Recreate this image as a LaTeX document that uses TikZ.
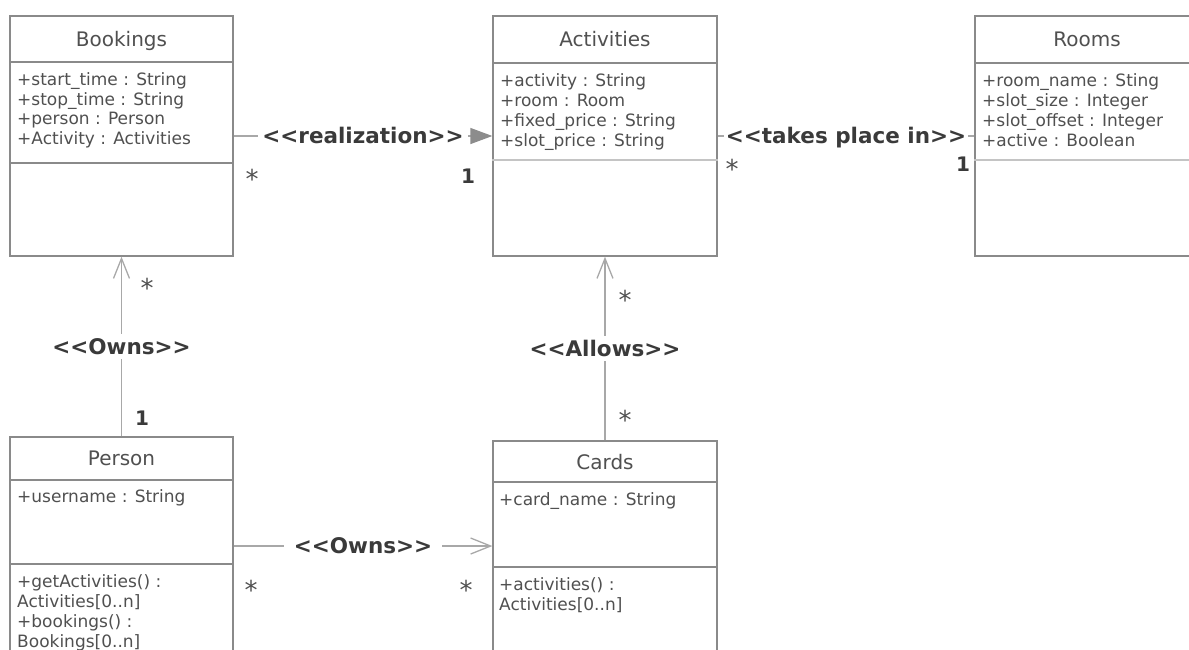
\documentclass[tikz,border=0pt]{standalone}
\usepackage{fontspec}
\setmainfont{DejaVu Sans}
\usetikzlibrary{arrows.meta}
\definecolor{boxline}{HTML}{8A8A8A}
\definecolor{connline}{HTML}{A8A8A8}
\definecolor{txtgray}{HTML}{505050}
\definecolor{lblgray}{HTML}{3A3A3A}
\definecolor{arrowgray}{HTML}{8C8C8C}
\definecolor{lightdiv}{HTML}{C4C4C4}
\newcommand{\lgl}{<\kern0pt<}
\newcommand{\rgl}{>\kern0pt>}
\begin{document}
\begin{tikzpicture}[x=1pt,y=-1pt,
  classbox/.style={draw=boxline,line width=1.3pt,fill=white,inner sep=0pt},
  titletext/.style={anchor=base,text=txtgray,font=\fontsize{20}{24}\selectfont,inner sep=0pt},
  attr/.style={anchor=base west,text=txtgray,font=\fontsize{17}{20}\selectfont,inner sep=0pt},
  divider/.style={draw=boxline,line width=1.3pt},
  softdiv/.style={draw=lightdiv,line width=2pt},
  connector/.style={draw=connline,line width=1.3pt},
  stereo/.style={fill=white,text=lblgray,font=\bfseries\fontsize{21.5}{25}\selectfont,inner xsep=4pt,inner ysep=5pt,text height=15pt,text depth=0pt},
  many/.style={anchor=base,text=txtgray,font=\fontsize{26}{30}\selectfont,inner sep=0pt},
  one/.style={anchor=base,text=lblgray,font=\bfseries\fontsize{20}{24}\selectfont,inner sep=0pt},
  openarrow/.style={-{Straight Barb[length=20pt,width=16pt]}},
  realarrow/.style={-{Triangle[length=22pt,width=16pt,color=arrowgray]}}
]
\useasboundingbox (0,0) rectangle (1189,649);

% ---------- Bookings ----------
\node[classbox,minimum width=223pt,minimum height=240pt] (bookings) at (121.5,136) {};
\draw[divider] (bookings.west |- 0,62) -- (bookings.east |- 0,62);
\draw[divider] (bookings.west |- 0,163) -- (bookings.east |- 0,163);
\node[titletext] (bookingsT) at (121.5,46) {Bookings};
\node[attr] (b1) at (17,85) {+start\_time : String};
\node[attr] (b2) at (17,105) {+stop\_time : String};
\node[attr] (b3) at (17,124.5) {+person : Person};
\node[attr] (b4) at (17,144) {+Activity : Activities};

% ---------- Activities ----------
\node[classbox,minimum width=224pt,minimum height=240pt] (activities) at (605,136) {};
\draw[divider] (activities.west |- 0,63) -- (activities.east |- 0,63);
\draw[softdiv] (activities.west |- 0,160) -- (activities.east |- 0,160);
\node[titletext] (activitiesT) at (605,46) {Activities};
\node[attr] (a1) at (500,86) {+activity : String};
\node[attr] (a2) at (500,106) {+room : Room};
\node[attr] (a3) at (500,126) {+fixed\_price : String};
\node[attr] (a4) at (500,146) {+slot\_price : String};

% ---------- Rooms ----------
\node[classbox,minimum width=224pt,minimum height=240pt] (rooms) at (1087,136) {};
\draw[divider] (rooms.west |- 0,63) -- (rooms.east |- 0,63);
\draw[softdiv] (rooms.west |- 0,160) -- (rooms.east |- 0,160);
\node[titletext] (roomsT) at (1087,46) {Rooms};
\node[attr] (r1) at (982,86) {+room\_name : Sting};
\node[attr] (r2) at (982,106) {+slot\_size : Integer};
\node[attr] (r3) at (982,126) {+slot\_offset : Integer};
\node[attr] (r4) at (982,146) {+active : Boolean};

% ---------- Person ----------
\node[classbox,minimum width=223pt,minimum height=218pt] (person) at (121.5,546) {};
\draw[divider] (person.west |- 0,480) -- (person.east |- 0,480);
\draw[divider] (person.west |- 0,564) -- (person.east |- 0,564);
\node[titletext] (personT) at (121.5,465) {Person};
\node[attr] (p1) at (17,502) {+username : String};
\node[attr] (p2) at (17,587) {+getActivities() :};
\node[attr] (p3) at (17,607) {Activities[0..n]};
\node[attr] (p4) at (17,627) {+bookings() :};
\node[attr] (p5) at (17,647) {Bookings[0..n]};

% ---------- Cards ----------
\node[classbox,minimum width=224pt,minimum height=210pt] (cards) at (605,546) {};
\draw[divider] (cards.west |- 0,482) -- (cards.east |- 0,482);
\draw[divider] (cards.west |- 0,567) -- (cards.east |- 0,567);
\node[titletext] (cardsT) at (605,469) {Cards};
\node[attr] (c1) at (499,505) {+card\_name : String};
\node[attr] (c2) at (499,590) {+activities() :};
\node[attr] (c3) at (499,610) {Activities[0..n]};

% ---------- Connectors ----------
\draw[connector,realarrow] (bookings.east) -- node[stereo] (realLbl) {\lgl realization\rgl} (activities.west);
\draw[connector] (activities.east) -- node[stereo,inner xsep=2pt] (takesLbl) {\lgl takes place in\rgl} (rooms.west);
\draw[connector,openarrow] (person.north) -- node[stereo,inner xsep=6pt] (ownsVLbl) {\lgl Owns\rgl} (bookings.south);
\draw[connector,openarrow] (cards.north) -- node[stereo,inner xsep=6pt] (allowsLbl) {\lgl Allows\rgl} (activities.south);
\draw[connector,openarrow] (person.east) -- node[stereo,inner xsep=10pt] (ownsHLbl) {\lgl Owns\rgl} (cards.west);

% ---------- Multiplicities ----------
\node[many] (m1) at (252,188) {*};
\node[one]  (m2) at (468,183) {1};
\node[many] (m3) at (732,178) {*};
\node[one]  (m4) at (963,171) {1};
\node[many] (m5) at (147,297) {*};
\node[one]  (m6) at (142,425) {1};
\node[many] (m7) at (625,309) {*};
\node[many] (m8) at (625,429) {*};
\node[many] (m9) at (251,599) {*};
\node[many] (m10) at (466,599) {*};
\end{tikzpicture}
\end{document}
